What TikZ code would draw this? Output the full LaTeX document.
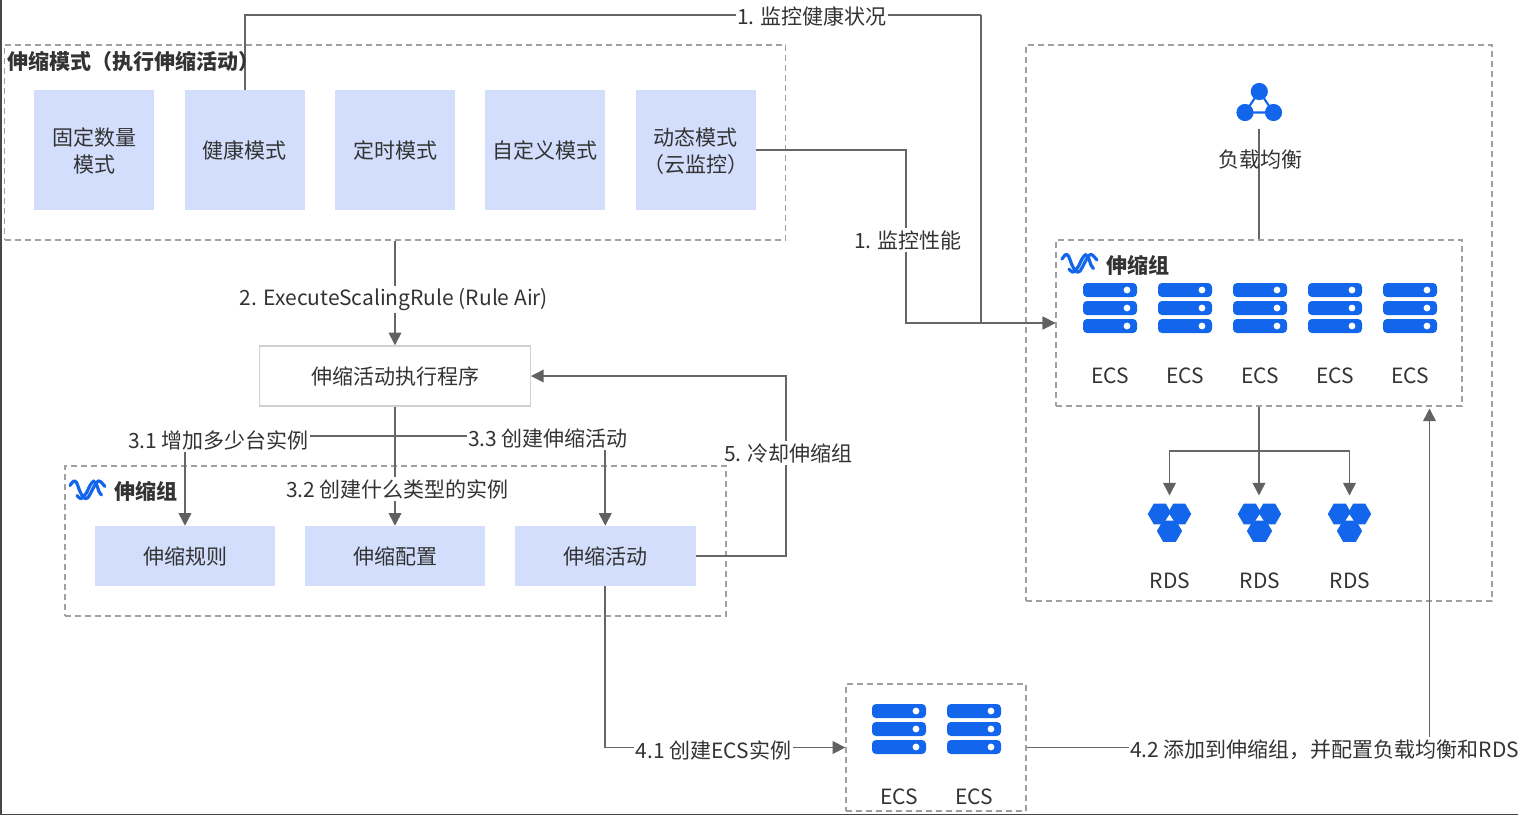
\documentclass[tikz,border=0pt]{standalone}
\usepackage{fontspec}
\setmainfont{Noto Sans CJK SC}
\usepackage{xcolor}
\usetikzlibrary{arrows.meta}

\definecolor{boxblue}{HTML}{D2DEFC}
\definecolor{iconblue}{HTML}{1366EC}
\definecolor{linegray}{HTML}{666666}
\definecolor{framegray}{HTML}{A0A0A0}
\definecolor{textgray}{HTML}{333333}
\def\px{0.75pt}

\tikzset{
    txt/.style={text=textgray, font=\fontsize{15.75pt}{19.5pt}\selectfont, align=center, inner sep=0pt},
    lbl/.style={txt, fill=white, inner xsep=1pt, inner ysep=2pt},
    grouptitle/.style={txt, font=\fontsize{15.75pt}{19.5pt}\selectfont\bfseries, anchor=west},
    modebox/.style={txt, fill=boxblue, minimum width=120*\px, minimum height=120*\px, text depth=0pt},
    twolines/.style={text depth=-2pt},
    groupbox/.style={txt, fill=boxblue, minimum width=180.5*\px, minimum height=60*\px, text depth=0pt},
    frame/.style={draw=framegray, line width=1pt, dash pattern=on 4.5pt off 3pt, inner sep=0pt},
    conn/.style={draw=linegray, line width=1.15pt},
    arr/.style={conn, -{Triangle[length=9.5pt, width=9.5pt, color=linegray!95!black]}},
    waveline/.style={draw=iconblue, line width=2.4pt, line cap=round},
    server/.pic={
        \foreach \r in {0,18,36} {
            \fill[iconblue, rounded corners=3pt] (-27,\r) rectangle (27,\r+14);
            \fill[white] (17,\r+7) circle[radius=3.4];
        }
    },
    rds/.pic={
        \fill[iconblue] (-9.7,10) ++(0:12) -- ++(120:12) -- ++(180:12) -- ++(240:12) -- ++(300:12) -- ++(0:12) -- cycle;
        \fill[iconblue] (9.7,10) ++(0:12) -- ++(120:12) -- ++(180:12) -- ++(240:12) -- ++(300:12) -- ++(0:12) -- cycle;
        \fill[iconblue] (0,27) ++(0:12.6) -- ++(120:12.6) -- ++(180:12.6) -- ++(240:12.6) -- ++(300:12.6) -- ++(0:12.6) -- cycle;
        \fill[white] (0,10.5) -- (-4,16.5) -- (4,16.5) -- cycle;
        \fill[white] (-1.6,-0.5) -- (1.6,-0.5) -- (0,3) -- cycle;
    },
    wave/.pic={
        \draw[waveline] plot[smooth] coordinates {(1,6) (4.5,1.8) (7.5,3) (11,12) (15,18.5) (19,18) (24,9) (28,2.5) (31,1.8) (36,7)};
        \draw[waveline] plot[smooth] coordinates {(8,16) (12,19) (17,14) (21,6) (24.5,1.8) (27.5,5) (30,12) (32.5,15.5)};
    }
}

\begin{document}
\begin{tikzpicture}[x=\px, y=-\px]
    \useasboundingbox (0,0) rectangle (1518,815);
    \fill[linegray!70!black] (0,0) rectangle (2,815);
    \fill[linegray!70!black] (0,814) rectangle (1518,815);

    % frames
    \node[frame, minimum width=781*\px, minimum height=195*\px] (modes) at (395,142.5) {};
    \node[frame, minimum width=466*\px, minimum height=556*\px] (outer) at (1259,323) {};
    \node[frame, minimum width=406*\px, minimum height=166*\px] (asgright) at (1259,323) {};
    \node[frame, minimum width=661*\px, minimum height=150*\px] (asgleft) at (395.5,541) {};
    \node[frame, minimum width=180*\px, minimum height=127*\px] (newecs) at (936,747.5) {};

    % modes
    \node[modebox, twolines] (fixed) at (94.25,150) {固定数量\\[0.4pt]模式};
    \node[modebox] (health) at (244.75,150) {健康模式};
    \node[modebox] (timer) at (395,150) {定时模式};
    \node[modebox] (custom) at (545.25,150) {自定义模式};
    \node[modebox, twolines] (dynamic) at (695.5,150) {动态模式\\[0.4pt]（云监控）};

    % executor and scaling group parts
    \node[txt, draw=black!18, line width=1.1pt, fill=white, minimum width=270.5*\px, minimum height=60*\px, text depth=0pt] (exec) at (395,376) {伸缩活动执行程序};
    \node[groupbox] (rule) at (185,556) {伸缩规则};
    \node[groupbox] (config) at (395,556) {伸缩配置};
    \node[groupbox] (activity) at (605.25,556) {伸缩活动};

    % free ends and bends
    \coordinate (topbend) at (981,15);
    \coordinate (perfbend) at (906,240);
    \coordinate (split) at (395,436);
    \coordinate (coolbend) at (786,453);
    \coordinate (rdssplit) at (1259,451);
    \coordinate (rdsA) at (1169.5,495.5);
    \coordinate (rdsB) at (1259,495.5);
    \coordinate (rdsC) at (1349.5,495.5);
    \coordinate (asgin) at (1429.5,408.5);
    \coordinate (lbicon) at (1259,129);

    % connectors
    \draw[conn] (health.north) |- (topbend);
    \draw[arr] (topbend) |- (asgright.west);
    \draw[arr] (dynamic.east) -| (perfbend) |- (asgright.west);
    \draw[arr] (modes.south) -- (exec.north);
    \draw[arr] (exec.south) -- (config.north);
    \draw[arr] (split) -| (rule.north);
    \draw[arr] (split) -| (activity.north);
    \draw[arr] (activity.east) -| (coolbend) |- (exec.east);
    \draw[arr] (activity.south) |- (newecs.west);
    \draw[arr] (newecs.east) -| (asgin);
    \draw[conn] (lbicon) -- (asgright.north);
    \draw[arr] (asgright.south) -- (rdsB);
    \draw[arr] (rdssplit) -| (rdsA);
    \draw[arr] (rdssplit) -| (rdsC);

    % labels
    \node[lbl] (lhealth) at (812,16) {1. 监控健康状况};
    \node[lbl] (lperf) at (908,240) {1. 监控性能};
    \node[lbl] (lrule) at (394,299.5) {2. ExecuteScalingRule (Rule Air)};
    \node[lbl] (lhowmany) at (218.5,440) {3.1 增加多少台实例};
    \node[lbl] (lwhat) at (397.5,489) {3.2 创建什么类型的实例};
    \node[lbl] (lcreate) at (548,438) {3.3 创建伸缩活动};
    \node[lbl] (lcool) at (788.5,453) {5. 冷却伸缩组};
    \node[lbl] (lecs) at (713.5,750) {4.1 创建ECS实例};
    \node[lbl, anchor=west] (ladd) at (1128.5,750) {4.2 添加到伸缩组，并配置负载均衡和RDS};

    \node[grouptitle] (tmodes) at (7.5,62) {伸缩模式（执行伸缩活动）};
    \node[grouptitle] (tleft) at (114,491) {伸缩组};
    \node[grouptitle] (tright) at (1106,265) {伸缩组};
    \node[txt] (tlb) at (1260,160) {负载均衡};

    % load balancer icon
    \draw[iconblue, line width=1.6pt] (1259.3,91.5) -- (1245,112.5) -- (1273.5,112.5) -- cycle;
    \fill[iconblue] (1259.3,91.5) circle[radius=8.6];
    \fill[iconblue] (1245,112.5) circle[radius=8.6];
    \fill[iconblue] (1273.5,112.5) circle[radius=8.6];

    % wave icons
    \pic at (1061,253) {wave};
    \pic at (69,479.5) {wave};

    % servers
    \foreach \x/\name in {1110/A,1185/B,1260/C,1335/D,1410/E} {
        \pic at (\x,283) {server};
        \node[txt] (ecs\name) at (\x,376) {ECS};
    }
    \foreach \x/\name in {899/F,974/G} {
        \pic at (\x,704) {server};
        \node[txt] (ecs\name) at (\x,797) {ECS};
    }

    % rds
    \foreach \x/\name in {1169.5/A,1259.5/B,1349.5/C} {
        \pic at (\x,504) {rds};
        \node[txt] (rdslabel\name) at (\x+0.5,581) {RDS};
    }
\end{tikzpicture}
\end{document}
